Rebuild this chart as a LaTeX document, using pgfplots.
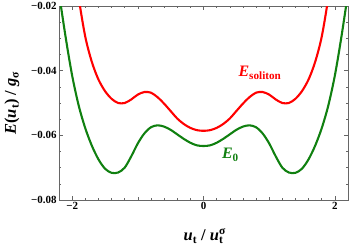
\documentclass[border=0pt]{standalone}
\usepackage{fontspec}
\setmainfont{Liberation Serif}
\usepackage{pgfplots}
\pgfplotsset{compat=1.18}
\definecolor{cred}{RGB}{255,0,0}
\definecolor{cgreen}{RGB}{16,128,16}
\begin{document}
\begin{tikzpicture}
\begin{axis}[
  scale only axis,
  width=289bp, height=194bp,
  xmin=-2.2, xmax=2.2,
  ymin=-0.08, ymax=-0.02,
  xtick={-2,0,2}, xticklabels={−2,0,2},
  ytick={-0.08,-0.06,-0.04,-0.02}, yticklabels={−0.08,−0.06,−0.04,−0.02},
  minor x tick num=9,
  minor y tick num=3,
  extra x ticks={-1,1}, extra x tick labels={},
  extra x tick style={major tick length=3.2bp},
  tick align=inside,
  major tick length=4bp, minor tick length=2.2bp,
  axis line style={draw=black!60, line width=0.6pt},
  every tick/.style={draw=black!60, line width=0.5pt},
  ticklabel style={font=\bfseries\fontsize{11}{13}\selectfont},
  xticklabel style={yshift=1bp},
  yticklabel style={xshift=1bp},
  ylabel={\textbf{\textit{E}(\textit{u}\textsubscript{t}) / \textit{g}\textsubscript{σ}}},
  xlabel={\textbf{\textit{u}\textsubscript{t} / \textit{u}\rlap{\textsuperscript{σ}}\textsubscript{t}}},
  label style={font=\fontsize{16.5}{18}\selectfont},
  ylabel style={at={(axis description cs:0,0.5)}, anchor=center, yshift=47bp, rotate=0},
  xlabel style={at={(axis description cs:0.5,0)}, anchor=center, yshift=-36bp},
  clip=true,
]
\addplot[cgreen, line width=2.1pt, smooth] coordinates {
(-2.2,-0.0160) (-2.1,-0.0295) (-2.0,-0.0415) (-1.9,-0.0508) (-1.8,-0.0578)
(-1.7,-0.0632) (-1.6,-0.0674) (-1.5,-0.0703) (-1.4,-0.0716) (-1.3,-0.0715)
(-1.2,-0.0700) (-1.1,-0.0665) (-1.0,-0.0625) (-0.9,-0.0594) (-0.8,-0.0575)
(-0.7,-0.0569) (-0.6,-0.0573) (-0.5,-0.0583) (-0.4,-0.0597) (-0.3,-0.0611)
(-0.2,-0.0623) (-0.1,-0.0631) (0,-0.0633)
(0.1,-0.0631) (0.2,-0.0623) (0.3,-0.0611) (0.4,-0.0597) (0.5,-0.0583)
(0.6,-0.0573) (0.7,-0.0569) (0.8,-0.0575) (0.9,-0.0594) (1.0,-0.0625)
(1.1,-0.0665) (1.2,-0.0700) (1.3,-0.0715) (1.4,-0.0716) (1.5,-0.0703)
(1.6,-0.0674) (1.7,-0.0632) (1.8,-0.0578) (1.9,-0.0508) (2.0,-0.0415)
(2.1,-0.0295) (2.2,-0.0160)
};
\addplot[cred, line width=2.1pt, smooth] coordinates {
(-2.0,-0.0030) (-1.9,-0.0175) (-1.8,-0.0295) (-1.7,-0.0373) (-1.6,-0.0427)
(-1.5,-0.0463) (-1.4,-0.0487) (-1.3,-0.0500) (-1.2,-0.0500) (-1.1,-0.0489)
(-1.0,-0.0474) (-0.9,-0.0466) (-0.8,-0.0468) (-0.7,-0.0482) (-0.6,-0.0502)
(-0.5,-0.0525) (-0.4,-0.0548) (-0.3,-0.0565) (-0.2,-0.0577) (-0.1,-0.0584)
(0,-0.0586)
(0.1,-0.0584) (0.2,-0.0577) (0.3,-0.0565) (0.4,-0.0548) (0.5,-0.0525)
(0.6,-0.0502) (0.7,-0.0482) (0.8,-0.0468) (0.9,-0.0466) (1.0,-0.0474)
(1.1,-0.0489) (1.2,-0.0500) (1.3,-0.0500) (1.4,-0.0487) (1.5,-0.0463)
(1.6,-0.0427) (1.7,-0.0373) (1.8,-0.0295) (1.9,-0.0175) (2.0,-0.0030)
};
\node[text=cred, font=\fontsize{16}{18}\selectfont\bfseries] at (axis cs:0.86,-0.0407) {\textit{E}\textsubscript{soliton}};
\node[text=cgreen, font=\fontsize{16}{18}\selectfont\bfseries] at (axis cs:0.41,-0.0661) {\textit{E}\textsubscript{0}};
\end{axis}
\pgfresetboundingbox
\path ([shift={(-59bp,-51bp)}]current axis.south west) rectangle ([shift={(6bp,6bp)}]current axis.north east);
\end{tikzpicture}
\end{document}
